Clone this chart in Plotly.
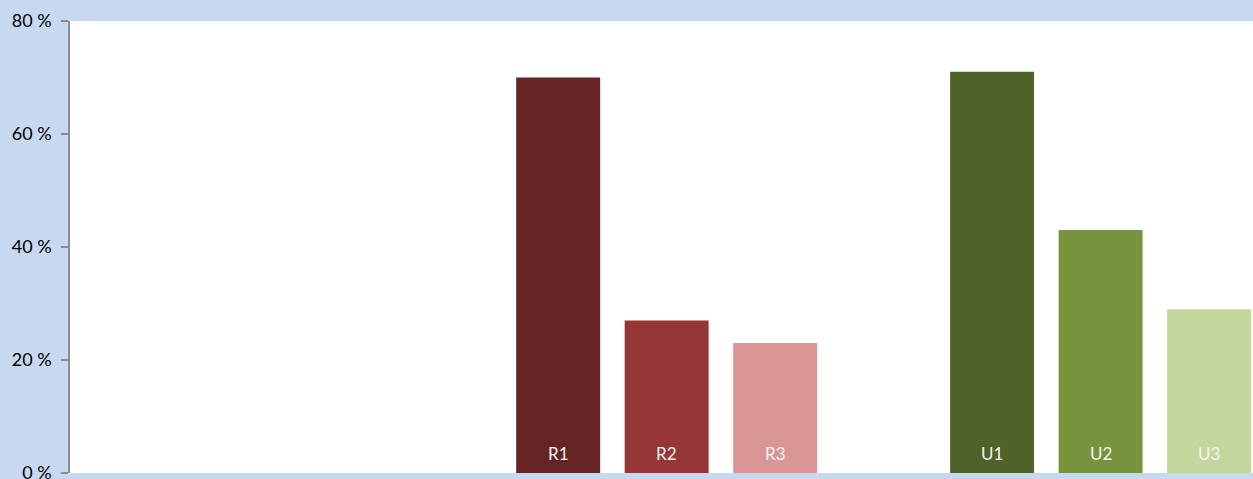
import plotly.graph_objects as go

categories = ["A1", "A2", "A3", "A4", "R1", "R2", "R3", "G1", "U1", "U2", "U3"]
bar_labels = ["", "", "", "", "R1", "R2", "R3", "", "U1", "U2", "U3"]
values = [None, None, None, None, 70, 27, 23, None, 71, 43, 29]
colors = ["#ffffff", "#ffffff", "#ffffff", "#ffffff",
          "#632423", "#953735", "#D99694", "#ffffff",
          "#4F6228", "#77933C", "#C3D69B"]
y_ticks = [0, 20, 40, 60, 80]
y_tick_labels = ["0 %", "20 %", "40 %", "60 %", "80 %"]

fig = go.Figure(
    go.Bar(
        x=categories,
        y=values,
        marker=dict(color=colors, line=dict(width=0)),
        cliponaxis=False,
        hoverinfo="skip",
    )
)

for cat, lab, val in zip(categories, bar_labels, values):
    if val is None or not lab:
        continue
    fig.add_annotation(
        x=cat, y=0, xref="x", yref="y",
        text=lab, showarrow=False,
        yanchor="middle", yshift=20,
        font=dict(color="#F4F4F4", size=17, family="Lato"),
    )

fig.update_layout(
    width=1253,
    height=479,
    margin=dict(l=70, r=0, t=21, b=6, pad=0, autoexpand=False),
    paper_bgcolor="#C6D9F1",
    plot_bgcolor="#FFFFFF",
    bargap=0.226,
    showlegend=False,
    font=dict(family="Lato", size=18, color="#000000"),
)

fig.update_xaxes(
    type="category",
    categoryorder="array",
    categoryarray=categories,
    range=[-0.5, 10.405],
    showticklabels=False,
    showline=False,
    showgrid=False,
    zeroline=False,
    ticks="",
    automargin=False,
)

fig.update_yaxes(
    range=[0, 80],
    tickvals=y_ticks,
    ticktext=y_tick_labels,
    showgrid=False,
    zeroline=False,
    showline=True,
    linecolor="#8C8C8C",
    linewidth=1.5,
    ticks="outside",
    ticklen=7,
    tickwidth=1.5,
    tickcolor="#8C8C8C",
    ticklabelstandoff=6,
    ticklabeloverflow="allow",
    automargin=False,
    tickfont=dict(family="Lato", size=18, color="#000000"),
)

fig.write_html(
    "out.html",
    config={"displayModeBar": False},
    post_script="document.body.style.margin='0';document.body.style.background='#C6D9F1';document.body.style.overflow='hidden';",
)
